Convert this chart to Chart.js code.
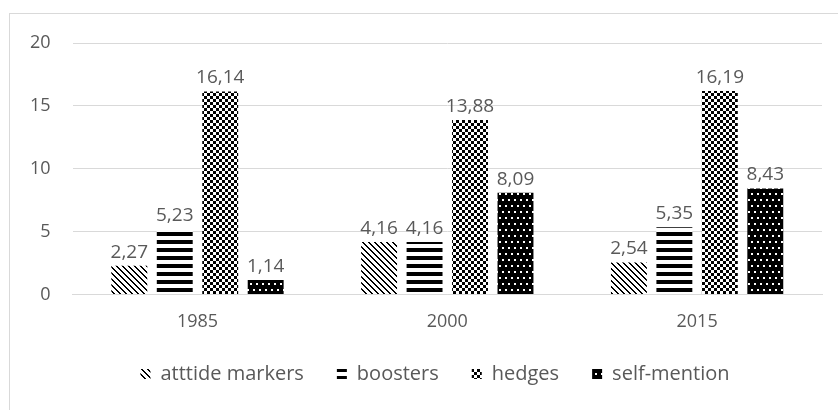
<!DOCTYPE html>
<html>
<head>
<meta charset="utf-8">
<script src="https://cdn.jsdelivr.net/npm/chart.js@4"></script>
<style>
  body { margin: 0; background: #fff; }
  #wrap { width: 838px; height: 410px; }
</style>
</head>
<body>
<div id="wrap"><canvas id="myChart" width="838" height="410"></canvas></div>
<script>
// values
var years = ["1985", "2000", "2015"];
var attitudeMarkers = [2.27, 4.16, 2.54];
var boosters = [5.23, 4.16, 5.35];
var hedges = [16.14, 13.88, 16.19];
var selfMention = [1.14, 8.09, 8.43];
var yTicks = [0, 5, 10, 15, 20];

var FONT = "'Open Sans', sans-serif";
var GREY = "#595959";

// small tiles used as fill patterns
function makePattern(w, h, draw) {
  var c = document.createElement("canvas");
  c.width = w; c.height = h;
  var g = c.getContext("2d");
  g.fillStyle = "#fff";
  g.fillRect(0, 0, w, h);
  g.fillStyle = "#000";
  draw(g);
  return g.createPattern(c, "repeat");
}

var diagPattern = makePattern(6, 6, function (g) {
  for (var i = 0; i < 6; i++) {
    g.fillRect(i, i, 1, 1);
    g.fillRect((i + 1) % 6, i, 1, 1);
  }
});
var stripePattern = makePattern(8, 8, function (g) {
  g.fillRect(0, 0, 8, 4);
});
var checkPattern = makePattern(6, 6, function (g) {
  g.fillRect(0, 0, 3, 3);
  g.fillRect(3, 3, 3, 3);
});
var dotPattern = makePattern(6, 12, function (g) {
  g.fillRect(0, 0, 6, 12);
  g.fillStyle = "#fff";
  g.fillRect(1, 1, 2, 2);
  g.fillRect(4, 7, 2, 2);
});

// value labels above each bar
var barLabels = {
  id: "barLabels",
  afterDatasetsDraw: function (chart) {
    var ctx = chart.ctx;
    ctx.save();
    ctx.font = "19px " + FONT;
    ctx.fillStyle = GREY;
    ctx.textAlign = "center";
    ctx.textBaseline = "bottom";
    chart.data.datasets.forEach(function (ds, i) {
      chart.getDatasetMeta(i).data.forEach(function (bar, j) {
        var txt = ds.data[j].toFixed(2).replace(".", ",");
        ctx.fillText(txt, bar.x, bar.y - 4);
      });
    });
    ctx.restore();
  }
};

// light frame of the chart area (left and top edges show)
var frame = {
  id: "frame",
  beforeDraw: function (chart) {
    var ctx = chart.ctx;
    ctx.save();
    ctx.strokeStyle = "#d9d9d9";
    ctx.lineWidth = 1;
    ctx.strokeRect(9.5, 13.5, 840, 410);
    ctx.restore();
  }
};

// legend sits a little right of the canvas centre
var legendShift = {
  id: "legendShift",
  afterLayout: function (chart) {
    chart.legend.left += 20;
    chart.legend.right += 20;
  }
};

new Chart("myChart", {
  type: "bar",
  data: {
    labels: years,
    datasets: [{
      label: "atttide markers",
      data: attitudeMarkers,
      backgroundColor: diagPattern
    }, {
      label: "boosters",
      data: boosters,
      backgroundColor: stripePattern
    }, {
      label: "hedges",
      data: hedges,
      backgroundColor: checkPattern
    }, {
      label: "self-mention",
      data: selfMention,
      backgroundColor: dotPattern
    }]
  },
  options: {
    responsive: false,
    animation: false,
    layout: {padding: {left: 8, right: 16, top: 43, bottom: 16}},
    datasets: {bar: {categoryPercentage: 0.728, barPercentage: 0.79}},
    scales: {
      x: {
        grid: {display: false, drawTicks: false},
        border: {color: "#d9d9d9"},
        ticks: {color: GREY, font: {family: FONT, size: 18}, padding: 17},
        afterFit: function (axis) { axis.height -= 19; }
      },
      y: {
        min: 0,
        max: 20,
        afterBuildTicks: function (axis) {
          axis.ticks = yTicks.map(function (v) { return {value: v}; });
        },
        grid: {color: "#d9d9d9", drawTicks: false},
        border: {display: false},
        ticks: {color: GREY, font: {family: FONT, size: 18}, padding: 22}
      }
    },
    plugins: {
      legend: {
        position: "bottom",
        labels: {
          boxWidth: 10,
          boxHeight: 10,
          padding: 33,
          color: GREY,
          font: {family: FONT, size: 20}
        }
      },
      tooltip: {enabled: false}
    }
  },
  plugins: [barLabels, frame, legendShift]
});
</script>
</body>
</html>
